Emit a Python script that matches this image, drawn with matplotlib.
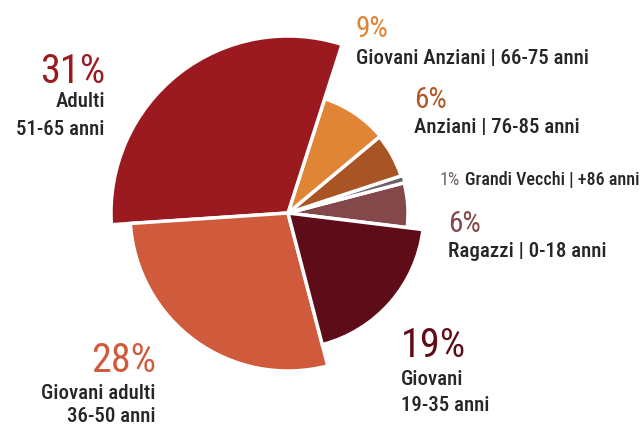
import matplotlib
matplotlib.use("Agg")
import matplotlib.pyplot as plt

# data (counter-clockwise from Ragazzi)
groups = ["Ragazzi", "Grandi Vecchi", "Anziani", "Giovani Anziani",
          "Adulti", "Giovani adulti", "Giovani"]
shares = [6, 1, 6, 9, 31, 28, 19]
colors = ["#84474A", "#6E6268", "#A95424", "#E08436",
          "#9B1A1F", "#D05A3C", "#5E0C18"]
radii = [120, 121, 119, 120, 177, 158, 136]

W, H = 644, 426
CX, CY = 288, 213

plt.rcParams['font.family'] = ['Roboto Condensed', 'DejaVu Sans']

fig = plt.figure(figsize=(W / 100, H / 100), dpi=100)
ax = fig.add_axes([0, 0, 1, 1])

wedges, _ = ax.pie(shares, colors=colors, startangle=-7, counterclock=True,
                   center=(CX, H - CY), radius=177,
                   explode=[0.012] * len(shares),
                   wedgeprops=dict(edgecolor="white", linewidth=2.5))
for w, r in zip(wedges, radii):
    w.set_radius(r)

ax.set_xlim(0, W)
ax.set_ylim(0, H)
ax.set_aspect('equal')
ax.axis('off')

dark = "#262626"


def txt(x, y, s, size, color=dark, ha='left', weight='medium'):
    ax.text(x, H - y, s, fontsize=size, color=color, ha=ha, va='baseline',
            fontweight=weight)


def pct(x, y, s, size, color, ha='left'):
    txt(x, y, s, size, color, ha, weight='normal')


# Adulti
pct(105, 83, "31%", 29, "#9B1A1F", 'right')
txt(105, 107, "Adulti", 15, ha='right')
txt(105, 135, "51-65 anni", 15, ha='right')
# Giovani Anziani
pct(356, 37, "9%", 21, "#E08436")
txt(356, 64, "Giovani Anziani | 66-75 anni", 15)
# Anziani
pct(414, 108, "6%", 21, "#B0592A")
txt(414, 133, "Anziani | 76-85 anni", 15)
# Grandi Vecchi
pct(440, 185, "1%", 13, "#6E6268")
txt(465, 185, "Grandi Vecchi | +86 anni", 13)
# Ragazzi
pct(448, 232, "6%", 21, "#84474A")
txt(448, 257, "Ragazzi | 0-18 anni", 15)
# Giovani
pct(401, 357, "19%", 29, "#5E0C18")
txt(401, 385, "Giovani", 15)
txt(401, 411, "19-35 anni", 15)
# Giovani adulti
pct(156, 372, "28%", 29, "#D05A3C", 'right')
txt(156, 399, "Giovani adulti", 15, ha='right')
txt(156, 422, "36-50 anni", 15, ha='right')

fig.savefig("out.png", dpi=100)
